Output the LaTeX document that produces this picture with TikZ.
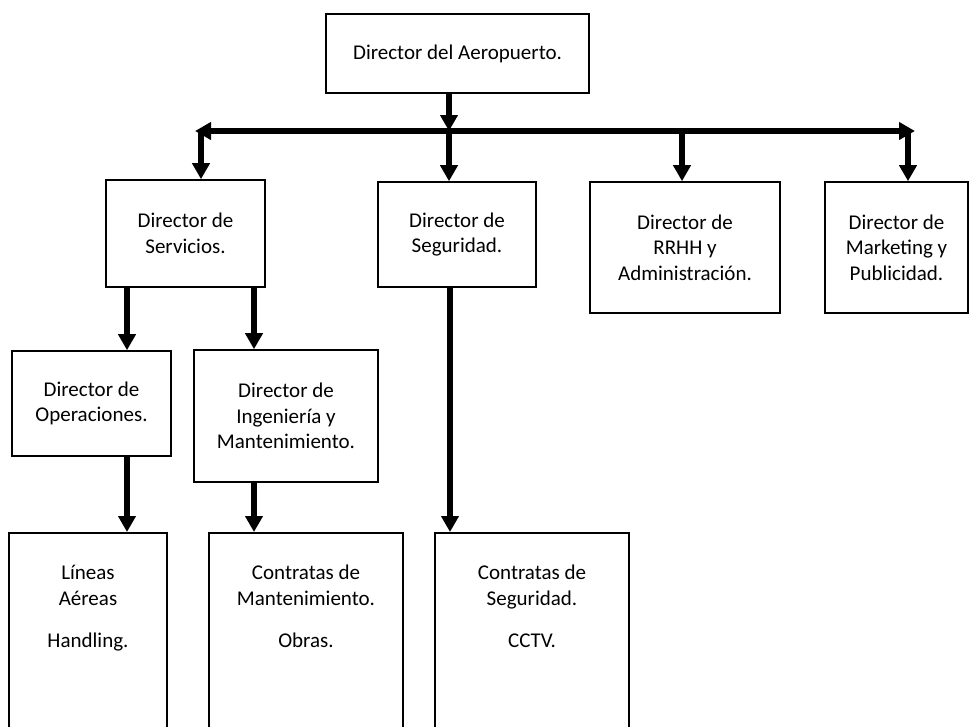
\documentclass[tikz,border=0pt]{standalone}
\usepackage{fontspec}
\setmainfont{Carlito}
\usetikzlibrary{arrows.meta}
\newcommand{\boxFont}[0]{\fontsize{21}{25.6}\selectfont}

\begin{document}
\begin{tikzpicture}[x=1pt, y=-1pt]
  \tikzset{orgbox/.style={draw, line width=1.6pt, align=center, font=\boxFont, inner sep=0pt},
           boxtext/.style={align=center, font=\boxFont, inner sep=0pt, anchor=north},
           conn/.style={line width=5.5pt, -{Triangle[width=17pt,length=16pt]}}}
  \useasboundingbox (0,0) rectangle (971,726);
  % top
  \node[orgbox, minimum width=263pt, minimum height=79pt] (aero) at (457.5,53.5) {Director del Aeropuerto.};
  % first level
  \node[orgbox, minimum width=159pt, minimum height=107pt] (svc) at (185.5,233.5) {Director de\\Servicios.};
  \node[orgbox, minimum width=158pt, minimum height=105pt] (seg) at (457,234.5) {Director de\\Seguridad.};
  \node[orgbox, minimum width=190pt, minimum height=131pt] (rrhh) at (685,247.5) {Director de\\RRHH y\\Administración.};
  \node[orgbox, minimum width=143pt, minimum height=131pt] (mkt) at (896.5,247.5) {Director de\\Marketing y\\Publicidad.};
  % second level
  \node[orgbox, minimum width=159pt, minimum height=105pt] (ops) at (91.5,403.5) {Director de\\Operaciones.};
  \node[orgbox, minimum width=184pt, minimum height=132pt] (ing) at (286,416) {Director de\\Ingeniería y\\Mantenimiento.};
  % bottom
  \node[orgbox, minimum width=158pt, minimum height=210pt, anchor=north] (lin) at (88,532) {};
  \node[orgbox, minimum width=194pt, minimum height=210pt, anchor=north] (cmant) at (306,532) {};
  \node[orgbox, minimum width=194pt, minimum height=210pt, anchor=north] (cseg) at (532,532) {};
  \node[boxtext] (lin-t) at ([yshift=-33pt]lin.north) {Líneas\\Aéreas\\[17pt]Handling.};
  \node[boxtext] (cmant-t) at ([yshift=-33pt]cmant.north) {Contratas de\\Mantenimiento.\\[17pt]Obras.};
  \node[boxtext] (cseg-t) at ([yshift=-33pt]cseg.north) {Contratas de\\Seguridad.\\[17pt]CCTV.};

  % bar
  \coordinate (barL) at (195,131);
  \coordinate (barR) at (915,131);
  \coordinate (hub) at (449,131);
  \coordinate (b1) at (201,131);
  \coordinate (b3) at (682,131);
  \coordinate (b4) at (908,131);
  \draw[line width=5.5pt, {Triangle[width=17pt,length=16pt]}-{Triangle[width=17pt,length=16pt]}] (barL) -- (barR);
  \draw[conn] (aero.south -| hub) -- (hub);
  \foreach \b/\n in {b1/svc, hub/seg, b3/rrhh, b4/mkt}
    \draw[conn] (\b) -- (\b |- \n.north);

  % columns below
  \coordinate (colA) at (127,0);
  \coordinate (colB) at (254,0);
  \coordinate (colC) at (450,0);
  \draw[conn] (svc.south -| colA) -- (ops.north -| colA);
  \draw[conn] (svc.south -| colB) -- (ing.north -| colB);
  \draw[conn] (ops.south -| colA) -- (lin.north -| colA);
  \draw[conn] (ing.south -| colB) -- (cmant.north -| colB);
  \draw[conn] (seg.south -| colC) -- (cseg.north -| colC);
\end{tikzpicture}
\end{document}
